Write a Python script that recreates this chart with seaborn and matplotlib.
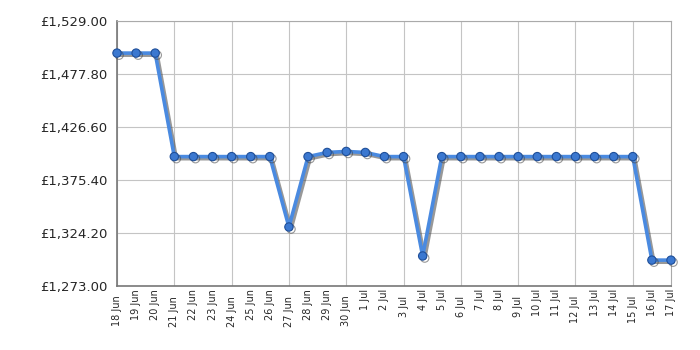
import numpy as np
import matplotlib
matplotlib.use("Agg")
import matplotlib.pyplot as plt
import matplotlib.patheffects as pe
from matplotlib.ticker import FixedLocator, FixedFormatter
import seaborn as sns

dates = ["18 Jun", "19 Jun", "20 Jun", "21 Jun", "22 Jun", "23 Jun", "24 Jun", "25 Jun",
         "26 Jun", "27 Jun", "28 Jun", "29 Jun", "30 Jun", "1 Jul", "2 Jul", "3 Jul",
         "4 Jul", "5 Jul", "6 Jul", "7 Jul", "8 Jul", "9 Jul", "10 Jul", "11 Jul",
         "12 Jul", "13 Jul", "14 Jul", "15 Jul", "16 Jul", "17 Jul"]
prices = [1498, 1498, 1498, 1398, 1398, 1398, 1398, 1398,
          1398, 1330, 1398, 1402, 1403, 1402, 1398, 1398,
          1302, 1398, 1398, 1398, 1398, 1398, 1398, 1398,
          1398, 1398, 1398, 1398, 1298, 1298]
yticks = [1273.0, 1324.2, 1375.4, 1426.6, 1477.8, 1529.0]

sns.set_style("white")
plt.rcParams['font.family'] = ['DejaVu Sans']

fig = plt.figure(figsize=(7, 3.5), dpi=100)
ax = fig.add_axes([117/700, 1-286/350, (671-117)/700, (286-21)/350])

x = np.arange(len(dates))
sns.lineplot(x=x, y=prices, ax=ax, color="#4a8ae0", linewidth=2.6,
             marker="o", markersize=6, markerfacecolor="#3b78d0",
             markeredgecolor="#1f4f99", markeredgewidth=0.8,
             path_effects=[pe.SimpleLineShadow(offset=(1.5, -1.5), shadow_color="#444444", alpha=0.55),
                           pe.Normal()], zorder=3, clip_on=False)

ax.set_xlim(0, len(dates) - 1)
ax.set_ylim(yticks[0], yticks[-1])
ax.set_yticks(yticks)
ax.set_yticklabels([f"£{v:,.2f}" for v in yticks], fontsize=9.5)

major = [i for i in x if i % 3 == 0]
minor = [i for i in x if i % 3 != 0]
ax.xaxis.set_major_locator(FixedLocator(major))
ax.xaxis.set_major_formatter(FixedFormatter([dates[i] for i in major]))
ax.xaxis.set_minor_locator(FixedLocator(minor))
ax.xaxis.set_minor_formatter(FixedFormatter([dates[i] for i in minor]))
ax.tick_params(axis="x", which="both", labelrotation=90, labelsize=7, pad=2)
ax.tick_params(axis="x", which="major", length=5, width=1, color="#555555", direction="out")
ax.tick_params(axis="x", which="minor", length=0)
ax.tick_params(axis="y", length=5, width=1, color="#555555", direction="out", pad=2)

ax.grid(True, which="major", color="#c4c4c4", linewidth=0.8)
ax.set_axisbelow(True)
for s in ["left", "bottom"]:
    ax.spines[s].set_color("#777777")
    ax.spines[s].set_linewidth(1.2)
for s in ["top", "right"]:
    ax.spines[s].set_color("#aaaaaa")
    ax.spines[s].set_linewidth(0.8)
ax.set_xlabel("")
ax.set_ylabel("")

fig.savefig("out.png", dpi=100)
